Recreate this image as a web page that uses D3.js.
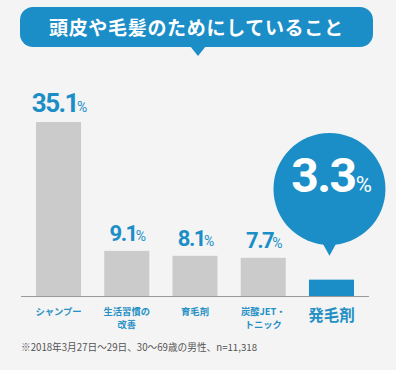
<!DOCTYPE html>
<html>
<head>
<meta charset="utf-8">
<script src="https://cdn.jsdelivr.net/npm/d3@7"></script>
<style>
  body { margin: 0; background: #f4f4f4; }
  text { font-family: "Noto Sans CJK JP", "Noto Sans", sans-serif; }
  .num { font-family: Roboto, "Noto Sans", sans-serif; font-weight: 700; }
</style>
</head>
<body>
<div id="chart"></div>
<script>
// data
var categories = ["シャンプー", "生活習慣の\n改善", "育毛剤", "炭酸JET・\nトニック", "発毛剤"];
var values = [35.1, 9.1, 8.1, 7.7, 3.3];
var highlight = "発毛剤";
var title = "頭皮や毛髪のためにしていること";
var footnote = "※2018年3月27日〜29日、30〜69歳の男性、n=11,318";

var W = 396, H = 370;
var blue = "#1b8ec7", gray = "#cbcbcb";

var svg = d3.select("#chart").append("svg")
    .attr("width", W)
    .attr("height", H);

svg.append("rect").attr("width", W).attr("height", H).attr("fill", "#f4f4f4");

// title bubble
var tb = svg.append("g");
tb.append("rect")
    .attr("x", 20).attr("y", 7)
    .attr("width", 353).attr("height", 40)
    .attr("rx", 13)
    .attr("fill", blue);
tb.append("path")
    .attr("d", "M190,46 L198,56 L206,46 Z")
    .attr("fill", blue);
tb.append("text")
    .attr("x", 196).attr("y", 28)
    .attr("dy", ".36em")
    .attr("text-anchor", "middle")
    .attr("fill", "#fff")
    .attr("font-size", 19)
    .attr("font-weight", 700)
    .attr("textLength", 294)
    .attr("lengthAdjust", "spacing")
    .text(title);

// scales
var baseY = 296;
var x = d3.scaleBand()
    .domain(categories)
    .range([21, 369])
    .paddingInner(0.34)
    .paddingOuter(0.22);

var y = d3.scaleLinear()
    .domain([0, 35.1])
    .range([baseY, 122]);

// bars
svg.selectAll(".bar")
    .data(values)
  .enter().append("rect")
    .attr("class", "bar")
    .attr("x", function(d, i) { return x(categories[i]); })
    .attr("y", function(d) { return y(d); })
    .attr("width", x.bandwidth())
    .attr("height", function(d) { return baseY - y(d); })
    .attr("fill", function(d, i) { return categories[i] === highlight ? blue : gray; });

// axis line
svg.append("line")
    .attr("x1", 21).attr("x2", 369)
    .attr("y1", baseY + 0.5).attr("y2", baseY + 0.5)
    .attr("stroke", "#9a9a9a")
    .attr("stroke-width", 1);

// value labels (not for highlighted)
var labels = svg.selectAll(".val")
    .data(values.filter(function(d, i) { return categories[i] !== highlight; }))
  .enter().append("text")
    .attr("class", "val num")
    .attr("x", function(d, i) { return x(categories[i]) + x.bandwidth() / 2 + 1; })
    .attr("y", function(d) { return y(d) - 10; })
    .attr("text-anchor", "middle")
    .attr("fill", blue)
    .attr("letter-spacing", -1.5);
labels.append("tspan")
    .attr("font-size", function(d) { return d > 20 ? 26 : 22; })
    .text(function(d) { return d.toFixed(1); });
labels.append("tspan")
    .attr("font-size", 14)
    .attr("font-weight", 400)
    .attr("letter-spacing", 0)
    .attr("dx", -1)
    .text("%");

// highlight bubble
var hi = categories.indexOf(highlight);
var cx = x(highlight) + x.bandwidth() / 2 - 2;
var cy = 189;
var hb = svg.append("g");
hb.append("circle")
    .attr("cx", cx).attr("cy", cy).attr("r", 56)
    .attr("fill", blue);
hb.append("path")
    .attr("d", "M" + (cx - 12) + "," + (cy + 45) + " L" + cx + "," + (y(values[hi]) - 24) + " L" + (cx + 12) + "," + (cy + 45) + " Z")
    .attr("fill", blue);
var ht = hb.append("text")
    .attr("class", "num")
    .attr("x", cx + 2).attr("y", 192)
    .attr("text-anchor", "middle")
    .attr("fill", "#fff")
    .attr("letter-spacing", -1.5);
ht.append("tspan").attr("font-size", 48).text(values[hi].toFixed(1));
ht.append("tspan").attr("font-size", 22).attr("font-weight", 400).attr("letter-spacing", 0).attr("dx", 0).text("%");

// category labels
svg.selectAll(".cat")
    .data(categories)
  .enter().append("text")
    .attr("class", "cat")
    .attr("text-anchor", "middle")
    .attr("fill", "#2590c4")
    .attr("font-weight", 700)
    .attr("font-size", function(d) { return d === highlight ? 15.5 : 9.3; })
    .each(function(d) {
      var t = d3.select(this);
      var lines = d.split("\n");
      var cxx = x(d) + x.bandwidth() / 2;
      lines.forEach(function(l, j) {
        t.append("tspan")
          .attr("x", cxx)
          .attr("y", d === highlight ? 321 : 315 + j * 13)
          .text(l);
      });
    });

// footnote
svg.append("text")
    .attr("x", 21).attr("y", 351)
    .attr("fill", "#555")
    .attr("font-size", 9.8)
    .attr("textLength", 236)
    .attr("lengthAdjust", "spacingAndGlyphs")
    .text(footnote);
</script>
</body>
</html>
